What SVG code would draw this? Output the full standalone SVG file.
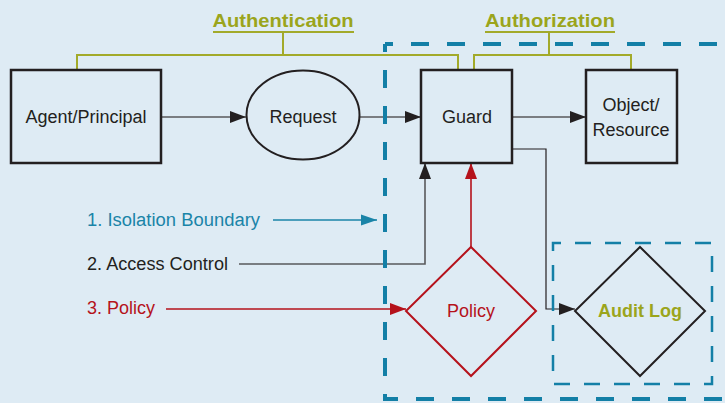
<svg xmlns="http://www.w3.org/2000/svg" width="725" height="403" viewBox="0 0 725 403">
<style>
.box{fill:none;stroke:#231f20;stroke-width:2.5}
.lbl{font-family:"Liberation Sans",Arial,sans-serif;font-size:18px;fill:#231f20;text-anchor:middle}
.side{font-family:"Liberation Sans",Arial,sans-serif;font-size:18px}
.head{font-family:"Liberation Sans",Arial,sans-serif;font-size:19px;font-weight:bold;fill:#9ba51c;text-anchor:middle}
.grn{fill:none;stroke:#a2aa2a;stroke-width:2}
.ln{fill:none;stroke:#58595b;stroke-width:1.6}
.thin{fill:none;stroke:#231f20;stroke-width:1.2}
.red{fill:none;stroke:#b5121b;stroke-width:1.6}
.blu{fill:none;stroke:#1a84a8;stroke-width:1.6}
.bound{fill:none;stroke:#137fa6;stroke-width:4;stroke-dasharray:18 18;stroke-dashoffset:10}
.bound2{fill:none;stroke:#137fa6;stroke-width:2.5;stroke-dasharray:16 14;stroke-dashoffset:8}
</style>
<defs>
<marker id="ak" markerUnits="userSpaceOnUse" markerWidth="16" markerHeight="12" refX="16" refY="6" orient="auto"><path d="M0,0 L16,6 L0,12 z" fill="#231f20"/></marker>
<marker id="ar" markerUnits="userSpaceOnUse" markerWidth="16" markerHeight="12" refX="16" refY="6" orient="auto"><path d="M0,0 L16,6 L0,12 z" fill="#b5121b"/></marker>
<marker id="ab" markerUnits="userSpaceOnUse" markerWidth="16" markerHeight="12" refX="16" refY="6" orient="auto"><path d="M0,0.5 L16,6 L0,11.5 z" fill="#1a84a8"/></marker>
</defs>
<rect width="725" height="403" fill="#deebf4"/>

<g id="connectors">
<path class="grn" d="M213,32 H354 M283,32 V55 M77,70 V55 H458 V70"/>
<path class="grn" d="M485,32 H615 M549,32 V55 M474,70 V55 H631 V70"/>
<path class="ln" d="M161,117 H246" marker-end="url(#ak)"/>
<path class="ln" d="M359,117 H421" marker-end="url(#ak)"/>
<path class="ln" d="M512,117 H586" marker-end="url(#ak)"/>
<path class="ln" d="M239,264 H425 V163" marker-end="url(#ak)"/>
<path class="red" d="M471,247 V163" stroke="#c9404a" marker-end="url(#ar)"/>
<path class="thin" d="M512,149 H546 V309 H575" marker-end="url(#ak)"/>
<path class="blu" d="M273,220 H377" marker-end="url(#ab)"/>
<path class="red" d="M166,309 H406" marker-end="url(#ar)"/>
</g>

<g id="isolation-boundary">
<path class="bound" d="M385,44 H760"/>
<path class="bound" d="M385,44 V399 H760"/>
</g>

<g id="audit-boundary">
<rect class="bound2" x="553" y="243" width="159" height="141"/>
</g>

<g id="authentication">
<text class="head" x="283" y="27" textLength="141" lengthAdjust="spacingAndGlyphs">Authentication</text>
</g>
<g id="authorization">
<text class="head" x="550" y="27" textLength="130" lengthAdjust="spacingAndGlyphs">Authorization</text>
</g>

<g id="agent">
<rect class="box" x="11" y="70" width="150" height="93"/>
<text class="lbl" x="86" y="123">Agent/Principal</text>
</g>
<g id="request">
<ellipse cx="303" cy="115" rx="56.5" ry="44.5" fill="none" stroke="#231f20" stroke-width="2"/>
<text class="lbl" x="303" y="123">Request</text>
</g>
<g id="guard">
<rect class="box" x="421" y="70" width="91" height="93"/>
<text class="lbl" x="467" y="123">Guard</text>
</g>
<g id="object">
<rect class="box" x="586" y="70" width="91" height="93"/>
<text class="lbl" x="631" y="111">Object/</text>
<text class="lbl" x="631" y="136">Resource</text>
</g>
<g id="policy">
<path d="M471,247 L536,311 L471,376 L406,311 Z" fill="none" stroke="#b5121b" stroke-width="2"/>
<text class="lbl" x="471" y="317" style="fill:#b5121b">Policy</text>
</g>
<g id="audit-log">
<path d="M640,247 L705,311 L640,376 L575,311 Z" fill="none" stroke="#231f20" stroke-width="2"/>
<text class="lbl" x="640" y="317" style="fill:#9ba51c;font-weight:bold">Audit Log</text>
</g>

<g id="legend">
<text class="side" x="87" y="226" fill="#1a84a8" textLength="173" lengthAdjust="spacingAndGlyphs">1. Isolation Boundary</text>
<text class="side" x="87" y="270" fill="#231f20" textLength="141" lengthAdjust="spacingAndGlyphs">2. Access Control</text>
<text class="side" x="87" y="314" fill="#b5121b" textLength="68" lengthAdjust="spacingAndGlyphs">3. Policy</text>
</g>
</svg>
